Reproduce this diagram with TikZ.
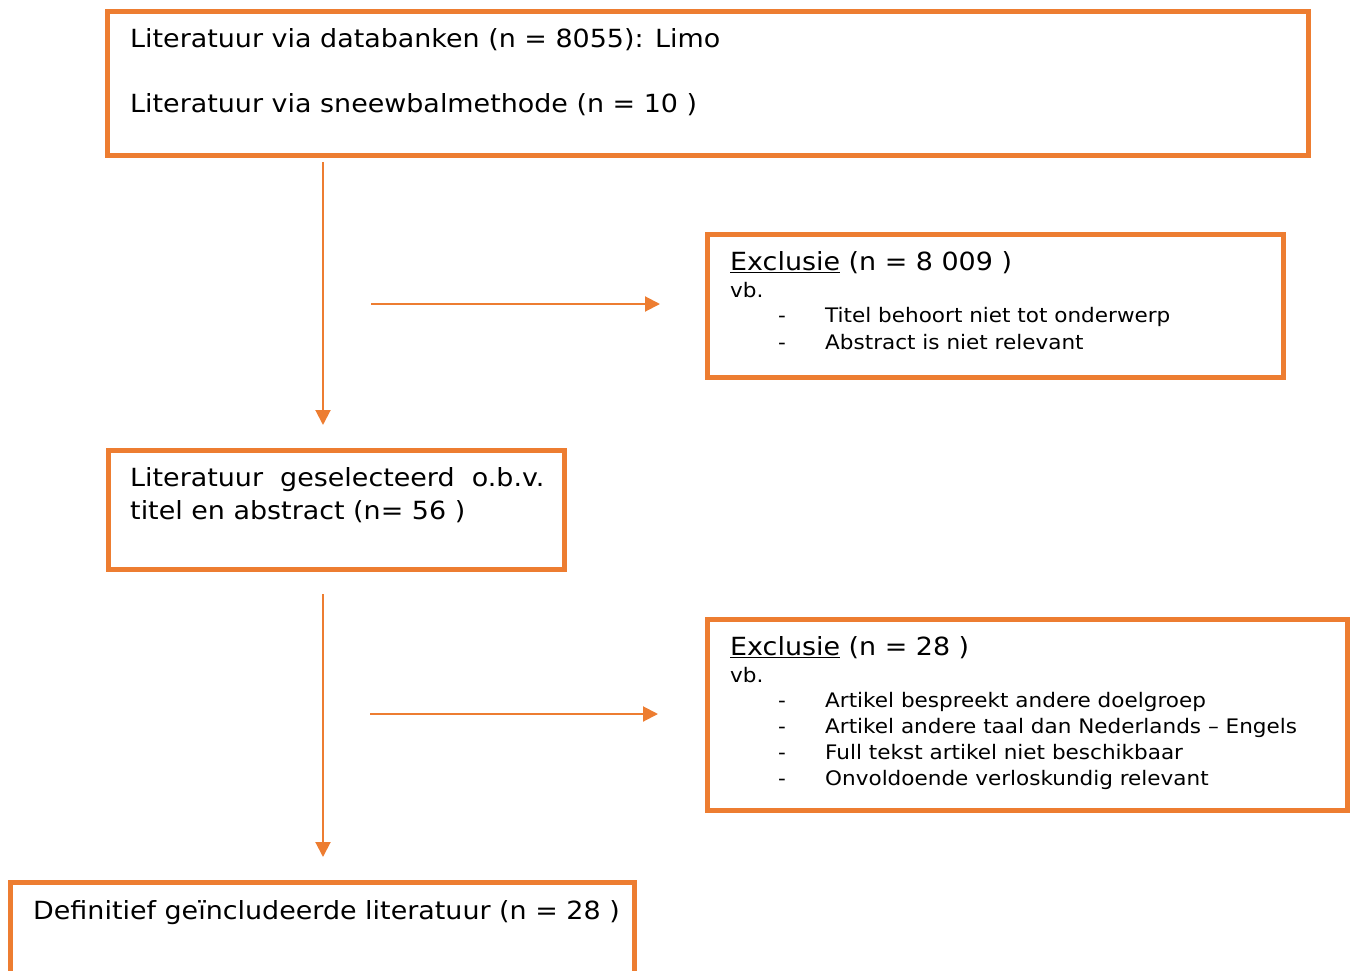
\documentclass[tikz,border=0pt]{standalone}
\usepackage{fontspec}
\setmainfont{DejaVu Sans}[FakeStretch=1.077]
\usetikzlibrary{arrows.meta}
\definecolor{orangeA}{HTML}{ED7D31}
\tikzset{
  box/.style={draw=orangeA, line width=5pt, inner sep=0pt, outer sep=0pt, anchor=north west},
  big/.style={anchor=base west, inner sep=0pt, font=\fontsize{25}{30}\selectfont},
  small/.style={anchor=base west, inner sep=0pt, font=\fontsize{20}{24}\selectfont},
  conn/.style={draw=orangeA, line width=2pt, -{Triangle[width=15pt,length=15pt]}}
}
\begin{document}
\begin{tikzpicture}[x=1pt,y=-1pt]
\useasboundingbox (0,0) rectangle (1352,971);
\clip (0,0) rectangle (1352,971);
% boxes
\node[box, minimum width=1201pt, minimum height=144pt] (b1) at (107,12) {};
\node[box, minimum width=576pt, minimum height=143pt] (b2) at (707,234) {};
\node[box, minimum width=456pt, minimum height=119pt] (b3) at (108,450) {};
\node[box, minimum width=640pt, minimum height=191pt] (b4) at (707,619) {};
\node[box, minimum width=624pt, minimum height=140pt] (b5) at (10,882) {};
% texts
\node[big] (t1a) at (130,48) {Literatuur via databanken (n = 8055): Limo};
\node[big] (t1b) at (130,113) {Literatuur via sneewbalmethode (n = 10 )};
\node[big] (t2a) at (730,270) {\underline{Exclusie} (n = 8 009 )};
\node[small] (t2b) at (730,297) {vb.};
\node[small] (t2c) at (778,322) {-};
\node[small] (t2d) at (825,322) {Titel behoort niet tot onderwerp};
\node[small] (t2e) at (778,349) {-};
\node[small] (t2f) at (825,349) {Abstract is niet relevant};
\node[big] (t3a) at (130,486) {Literatuur\ \ geselecteerd\ \ o.b.v.};
\node[big] (t3b) at (130,519) {titel en abstract (n= 56 )};
\node[big] (t4a) at (730,655) {\underline{Exclusie} (n = 28 )};
\node[small] (t4b) at (730,682) {vb.};
\node[small] (t4c) at (778,707) {-};
\node[small] (t4d) at (825,707) {Artikel bespreekt andere doelgroep};
\node[small] (t4e) at (778,733) {-};
\node[small] (t4f) at (825,733) {Artikel andere taal dan Nederlands – Engels};
\node[small] (t4g) at (778,759) {-};
\node[small] (t4h) at (825,759) {Full tekst artikel niet beschikbaar};
\node[small] (t4i) at (778,785) {-};
\node[small] (t4j) at (825,785) {Onvoldoende verloskundig relevant};
\node[big] (t5a) at (33,919) {Definitief geïncludeerde literatuur (n = 28 )};
% connectors
\coordinate (v1s) at (323,162);
\coordinate (v1e) at (323,425);
\coordinate (h1s) at (371,304);
\coordinate (h1e) at (660,304);
\coordinate (v2s) at (323,594);
\coordinate (v2e) at (323,857);
\coordinate (h2s) at (370,714);
\coordinate (h2e) at (658,714);
\draw[conn] (v1s) -- (v1e);
\draw[conn] (h1s) -- (h1e);
\draw[conn] (v2s) -- (v2e);
\draw[conn] (h2s) -- (h2e);
\end{tikzpicture}
\end{document}
